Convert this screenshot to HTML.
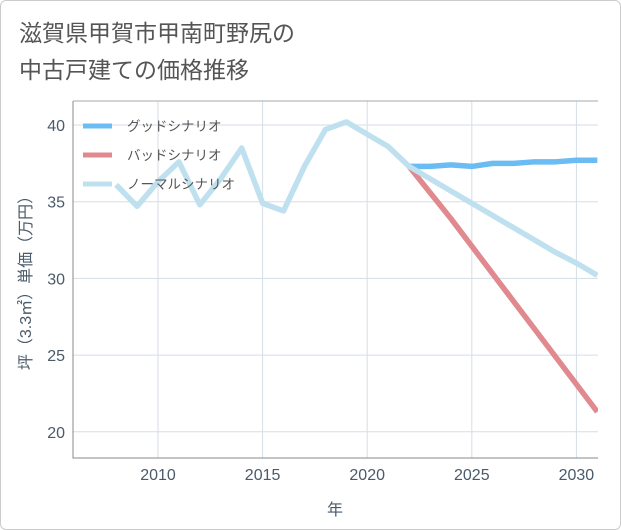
<!DOCTYPE html>
<html><head><meta charset="utf-8"><style>
body{margin:0;background:#fff;}
.w{width:619px;height:528px;border:1px solid #ccc;border-radius:6px;position:relative;overflow:hidden;font-family:"Liberation Sans","Noto Sans CJK JP",sans-serif;}
</style></head><body>
<div class="w">
<svg id="c" width="621" height="530">
<text x="18" y="40" font-size="23" fill="#555">滋賀県甲賀市甲南町野尻の</text>
<text x="18" y="77" font-size="23" fill="#555">中古戸建ての価格推移</text>
</svg></div>
<script>
const years=[2008,2009,2010,2011,2012,2013,2014,2015,2016,2017,2018,2019,2020,2021,2022];
const normalHist=[36.1,34.7,36.3,37.6,34.8,36.5,38.5,34.9,34.4,37.3,39.7,40.2,39.4,38.6,37.3];
const futYears=[2022,2023,2024,2025,2026,2027,2028,2029,2030,2031];
const good=[37.3,37.3,37.4,37.3,37.5,37.5,37.6,37.6,37.7,37.7];
const bad=[37.3,35.6,33.9,32.1,30.3,28.5,26.7,24.9,23.1,21.3];
const normal=[37.3,36.5,35.7,34.9,34.1,33.3,32.5,31.7,31.0,30.2];
const xTicks=[2010,2015,2020,2025,2030];
const yTicks=[20,25,30,35,40];
const NS='http://www.w3.org/2000/svg',s=document.getElementById('c');
const L=72,R=597,T=100,B=457;
const x=v=>157+(v-2010)*20.92, y=v=>124+(40-v)*15.34;
function el(t,a,p){const e=document.createElementNS(NS,t);for(const k in a)e.setAttribute(k,a[k]);(p||s).appendChild(e);return e;}
const clip=el('clipPath',{id:'cl'});el('rect',{x:L,y:T,width:R-L,height:B-T},clip);
xTicks.forEach(v=>{const g=el('line',{x1:x(v),x2:x(v),y1:T,y2:B,stroke:'#d5dee6'});

const t=el('text',{x:x(v),y:479,'text-anchor':'middle','font-size':16,fill:'#4a5a6a'});t.textContent=v;
});
yTicks.forEach(v=>{const g=el('line',{x1:L,x2:R,y1:y(v),y2:y(v),stroke:'#d5dee6'});

const t=el('text',{x:64,y:y(v)+6,'text-anchor':'end','font-size':16,fill:'#4a5a6a'});t.textContent=v;
});
const ax=el('path',{d:`M${L} ${T}V${B}H${R}`,fill:'none',stroke:'#888'});

const bt=el('line',{x1:L,x2:R,y1:T,y2:T,stroke:'#aaa'});
function line(xs,vs,c,n){const p=el('polyline',{points:xs.map((v,i)=>x(v)+','+y(vs[i])).join(' '),fill:'none',stroke:c,'stroke-width':5.5,'stroke-linejoin':'round','clip-path':'url(#cl)'});
}
line(futYears,good,'#6bbcf2','good-line');
line(futYears,bad,'#e08a90','bad-line');
line(years.concat(futYears.slice(1)),normalHist.concat(normal.slice(1)),'#bfe0ee','normal-line');
const leg=[['グッドシナリオ','#6bbcf2'],['バッドシナリオ','#e08a90'],['ノーマルシナリオ','#bfe0ee']];
leg.forEach((d,i)=>{const yy=125+i*29;
const r=el('line',{x1:82,x2:111,y1:yy,y2:yy,stroke:d[1],'stroke-width':5});

const t=el('text',{x:126,y:yy+5,'font-size':13.5,fill:'#555'});t.textContent=d[0];
});
const xt=el('text',{x:334,y:514,'text-anchor':'middle','font-size':16,fill:'#4a5a6a'});xt.textContent='年';

const yt=el('text',{x:0,y:0,transform:'translate(30,278) rotate(-90)','text-anchor':'middle','font-size':16,fill:'#4a5a6a'});yt.textContent='坪（3.3㎡）単価（万円）';

</script>
</body></html>
